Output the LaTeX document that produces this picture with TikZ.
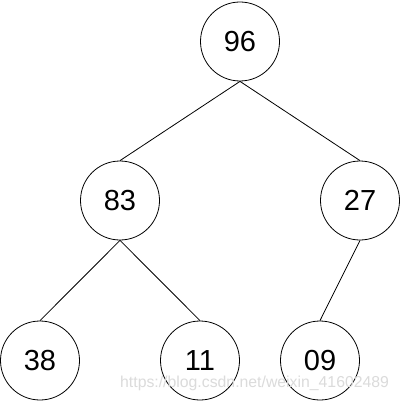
\documentclass[tikz,border=0pt]{standalone}
\usepackage{fontspec}
\setmainfont{Liberation Sans}
\begin{document}
\begin{tikzpicture}[x=1pt,y=-1pt,
  treenode/.style={draw=black,line width=0.8pt,circle,minimum size=79pt,inner sep=0pt,font=\fontsize{29}{29}\selectfont},
  edge/.style={draw=black,line width=0.8pt},
  watermark/.style={text=black!14,font=\fontsize{15.8}{15.8}\selectfont,inner sep=0pt,anchor=base west}]
\useasboundingbox (0,0) rectangle (401,401);
\fill[white] (0,0) rectangle (401,401);
\node[treenode] (n96) at (240,41.5) {96};
\node[treenode] (n83) at (120,200.5) {83};
\node[treenode] (n27) at (360,200.5) {27};
\node[treenode] (n38) at (40,360.5) {38};
\node[treenode] (n11) at (200,360.5) {11};
\node[treenode] (n09) at (320,360.5) {09};
\draw[edge] (n96.south) -- (n83.north);
\draw[edge] (n96.south) -- (n27.north);
\draw[edge] (n83.south) -- (n38.north);
\draw[edge] (n83.south) -- (n11.north);
\draw[edge] (n27.south) -- (n09.north);
\node[watermark] (wm) at (120,387) {https://blog.csdn.net/weixin\_41602489};
\end{tikzpicture}
\end{document}
